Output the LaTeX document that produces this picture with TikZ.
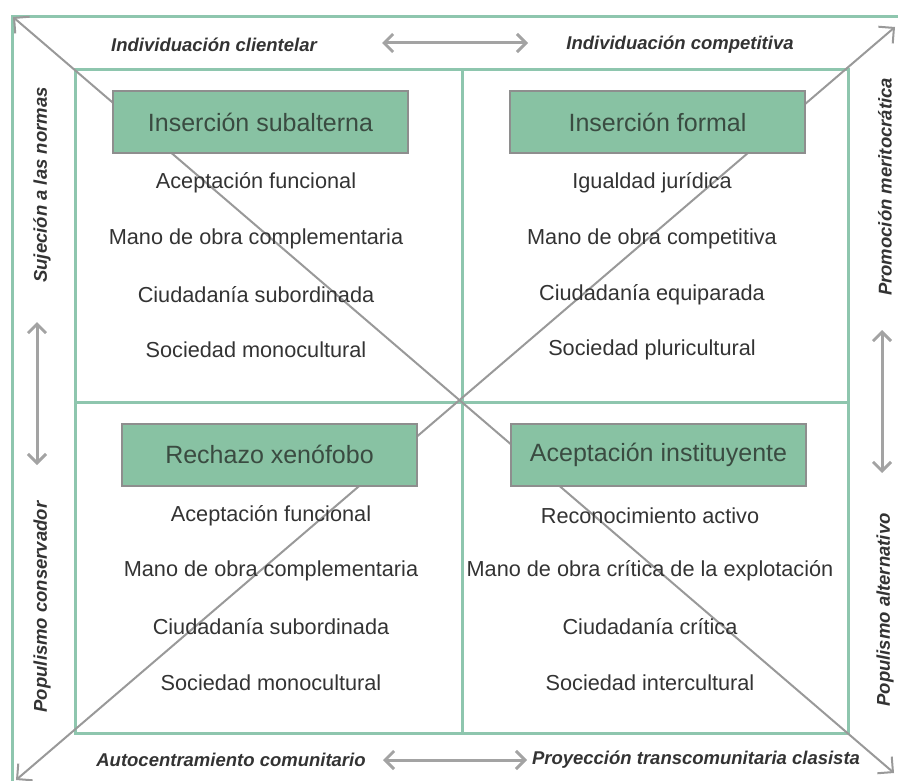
\documentclass[tikz,border=0pt]{standalone}
\usepackage{fontspec}
\setmainfont{Liberation Sans}
\usetikzlibrary{arrows.meta}
\definecolor{frameg}{HTML}{8EC6AE}
\definecolor{boxfill}{HTML}{88C2A3}
\definecolor{boxdraw}{HTML}{8E8E8E}
\definecolor{diagc}{HTML}{999999}
\definecolor{arrc}{HTML}{A3A3A3}
\definecolor{txt}{HTML}{333333}
\definecolor{htxt}{HTML}{3A4B41}
\begin{document}
\begin{tikzpicture}[x=1pt,y=-1pt,
  hdr/.style={draw=boxdraw, line width=2pt, fill=boxfill, minimum width=295pt, minimum height=62pt, font=\fontsize{25}{28}\selectfont, text=htxt, inner sep=0pt},
  body/.style={font=\fontsize{21.7}{24}\selectfont, text=txt, inner sep=0pt},
  side/.style={font=\fontsize{18.5}{20}\selectfont\bfseries\itshape, text=txt, inner sep=0pt},
  framel/.style={draw=frameg, line width=3pt},
  diagl/.style={draw=diagc, line width=2pt, {Straight Barb[length=11pt,width=22pt,line width=2pt]}-{Straight Barb[length=11pt,width=22pt,line width=2pt]}},
  dbl/.style={draw=arrc, line width=3pt, {Straight Barb[length=9pt,width=18pt,line width=3pt]}-{Straight Barb[length=9pt,width=18pt,line width=3pt]}}
]
\useasboundingbox (0,0) rectangle (898,781);
% frames
\draw[framel] (12,781) -- (12,17) -- (898,17);
\draw[framel] (75,70) rectangle (848,733);
\draw[framel] (462,70) -- (462,733);
\draw[framel] (75,402) -- (848,402);
% diagonals
\coordinate (d1a) at (13,17);
\coordinate (d1b) at (894,773);
\coordinate (d2a) at (16,780);
\coordinate (d2b) at (895,27);
\draw[diagl] (d1a) -- (d1b);
\draw[diagl] (d2a) -- (d2b);
% header boxes
\node[hdr] (h1) at (260.5,122) {Inserción subalterna};
\node[hdr] (h2) at (657.5,122) {Inserción formal};
\node[hdr] (h3) at (269.5,454.5) {Rechazo xenófobo};
\node[hdr] (h4) at (658.5,454.5) {Aceptación instituyente};
% body text
\node[body] (a1) at (256,183) {Aceptación funcional};
\node[body] (a2) at (256,239) {Mano de obra complementaria};
\node[body] (a3) at (256,295) {Ciudadanía subordinada};
\node[body] (a4) at (256,350) {Sociedad monocultural};
\node[body] (b1) at (652,183) {Igualdad jurídica};
\node[body] (b2) at (652,239) {Mano de obra competitiva};
\node[body] (b3) at (652,295) {Ciudadanía equiparada};
\node[body] (b4) at (652,350) {Sociedad pluricultural};
\node[body] (c1) at (271,516) {Aceptación funcional};
\node[body] (c2) at (271,571) {Mano de obra complementaria};
\node[body] (c3) at (271,627) {Ciudadanía subordinada};
\node[body] (c4) at (271,683) {Sociedad monocultural};
\node[body] (e1) at (650,516) {Reconocimiento activo};
\node[body] (e2) at (650,571) {Mano de obra crítica de la explotación};
\node[body] (e3) at (650,627) {Ciudadanía crítica};
\node[body] (e4) at (650,683) {Sociedad intercultural};
% side labels
\node[side] (s1) at (214,45) {Individuación clientelar};
\node[side] (s2) at (680,45) {Individuación competitiva};
\node[side] (s3) at (231,760) {Autocentramiento comunitario};
\node[side] (s4) at (696,760) {Proyección transcomunitaria clasista};
\node[side, rotate=90] (s5) at (42,185) {Sujeción a las normas};
\node[side, rotate=90] (s6) at (42,607) {Populismo conservador};
\node[side, rotate=90] (s7) at (885,187) {Promoción meritocrática};
\node[side, rotate=90] (s8) at (885,610) {Populismo alternativo};
% double arrows
\coordinate (ta) at (382,43); \coordinate (tb) at (528,43);
\coordinate (ba) at (383,760); \coordinate (bb) at (527,760);
\coordinate (la) at (37,322); \coordinate (lb) at (37,465);
\coordinate (ra) at (882,330); \coordinate (rb) at (882,473);
\draw[dbl] (ta) -- (tb);
\draw[dbl] (ba) -- (bb);
\draw[dbl] (la) -- (lb);
\draw[dbl] (ra) -- (rb);
\end{tikzpicture}
\end{document}
